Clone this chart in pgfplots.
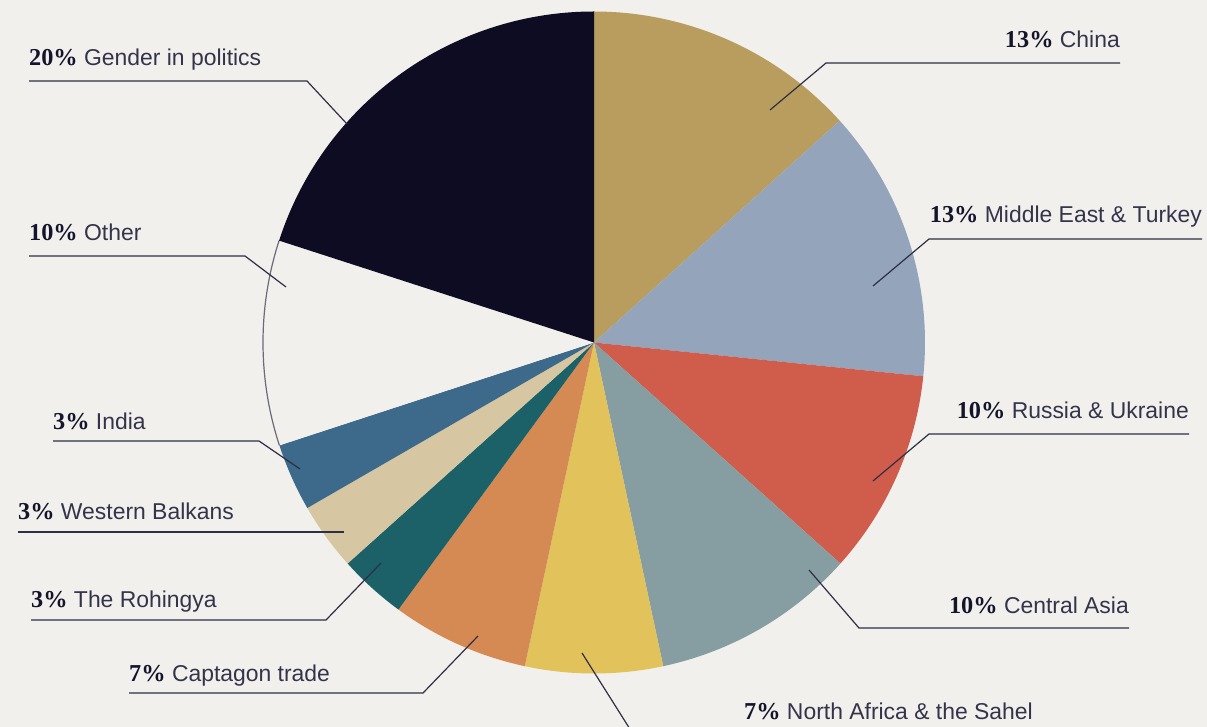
\documentclass[border=0pt]{standalone}
\usepackage{pgfplots}
\usepackage{pgfplotstable}
\usepackage{fontspec}
\pgfplotsset{compat=1.18}
\setmainfont{Liberation Sans}
\newfontfamily\pctfont{Liberation Serif}[Scale=1.06]

\definecolor{bgc}{HTML}{F1F0EC}
\definecolor{cChina}{HTML}{B89D5E}
\definecolor{cMiddleEast}{HTML}{93A4BB}
\definecolor{cRussia}{HTML}{D05C4C}
\definecolor{cCentralAsia}{HTML}{869EA1}
\definecolor{cNorthAfrica}{HTML}{E2C35B}
\definecolor{cCaptagon}{HTML}{D68A53}
\definecolor{cRohingya}{HTML}{1C6168}
\definecolor{cBalkans}{HTML}{D6C6A2}
\definecolor{cIndia}{HTML}{3D6A8A}
\definecolor{cOther}{HTML}{6B6A7A}
\definecolor{cGender}{HTML}{0D0C22}
\definecolor{txtdark}{HTML}{15142B}
\definecolor{txtlab}{HTML}{34334A}
\definecolor{leadc}{HTML}{2F2E45}

\tikzset{
  leader/.style={draw=leadc, line width=1.2bp},
  lbl/.style={font=\fontsize{23}{27}\selectfont, text=txtlab, inner sep=0pt},
}

% shares in percent, clockwise from 12 o'clock
\pgfplotstableread[col sep=comma]{
name,value,fill,edge
China,13.3,cChina,none
Middle East & Turkey,13.3,cMiddleEast,none
Russia & Ukraine,10,cRussia,none
Central Asia,10,cCentralAsia,none
North Africa & the Sahel,6.7,cNorthAfrica,none
Captagon trade,6.7,cCaptagon,none
The Rohingya,3.3,cRohingya,none
Western Balkans,3.3,cBalkans,none
India,3.3,cIndia,none
Other,10,bgc,cOther
Gender in politics,20,cGender,none
}\piedata

\newcommand\lab[2]{{\pctfont\bfseries\color{txtdark}#1\%}\ #2}

\begin{document}
\begin{tikzpicture}
\pgfplotstablegetrowsof{\piedata}\pgfmathtruncatemacro\nlast{\pgfplotsretval-1}
\def\total{0}
\pgfplotsforeachungrouped \i in {0,...,\nlast}{%
  \pgfplotstablegetelem{\i}{value}\of\piedata
  \pgfmathsetmacro\total{\total+\pgfplotsretval}}
\begin{axis}[
    x=1bp, y=1bp,
    xmin=0, xmax=1207, ymin=0, ymax=727,
    y dir=reverse,
    hide axis,
    clip=false,
]
\fill[bgc] (axis cs:0,0) rectangle (axis cs:1207,727);
\coordinate (BL) at (axis cs:0,727);
\coordinate (TR) at (axis cs:1207,0);

\def\angA{90}
\pgfplotsforeachungrouped \i in {0,...,\nlast}{%
  \pgfplotstablegetelem{\i}{value}\of\piedata \let\v\pgfplotsretval
  \pgfplotstablegetelem{\i}{fill}\of\piedata \let\c\pgfplotsretval
  \pgfplotstablegetelem{\i}{edge}\of\piedata \let\e\pgfplotsretval
  \pgfmathsetmacro\angB{\angA-360*\v/\total}
  \edef\temp{%
    \noexpand\fill[\c] (axis cs:594,342.5) -- ++(\angA:331bp)
      arc[start angle=\angA, end angle=\angB, radius=331bp] -- cycle;
    \noexpand\path[draw=\e, line width=1.2bp] (axis cs:594,342.5) ++(\angA:331bp)
      arc[start angle=\angA, end angle=\angB, radius=331bp];}%
  \temp
  \let\angA\angB
}

% leader lines
\draw[leader] (axis cs:770,110) -- (axis cs:826,63) -- (axis cs:1120,63);
\draw[leader] (axis cs:873,286) -- (axis cs:929,239) -- (axis cs:1202,239);
\draw[leader] (axis cs:873,481) -- (axis cs:929,434) -- (axis cs:1189,434);
\draw[leader] (axis cs:809,570) -- (axis cs:859,628) -- (axis cs:1129,628);
\draw[leader] (axis cs:582,653) -- (axis cs:640,745);
\draw[leader] (axis cs:478,636) -- (axis cs:423,693) -- (axis cs:129,693);
\draw[leader] (axis cs:381,563) -- (axis cs:326,620) -- (axis cs:31,620);
\draw[leader] (axis cs:344,532) -- (axis cs:18,532);
\draw[leader] (axis cs:300,469) -- (axis cs:259,441) -- (axis cs:53,441);
\draw[leader] (axis cs:286,287) -- (axis cs:245,256) -- (axis cs:29,256);
\draw[leader] (axis cs:347,124) -- (axis cs:307,81) -- (axis cs:29,81);

% labels
\node[lbl, anchor=base east] at (axis cs:1120,48) {\lab{13}{China}};
\node[lbl, anchor=base east] at (axis cs:1202,223) {\lab{13}{Middle East \& Turkey}};
\node[lbl, anchor=base east] at (axis cs:1189,418) {\lab{10}{Russia \& Ukraine}};
\node[lbl, anchor=base east] at (axis cs:1129,613) {\lab{10}{Central Asia}};
\node[lbl, anchor=base east] at (axis cs:1033,719) {\lab{7}{North Africa \& the Sahel}};
\node[lbl, anchor=base west] at (axis cs:129,681) {\lab{7}{Captagon trade}};
\node[lbl, anchor=base west] at (axis cs:31,607) {\lab{3}{The Rohingya}};
\node[lbl, anchor=base west] at (axis cs:18,519) {\lab{3}{Western Balkans}};
\node[lbl, anchor=base west] at (axis cs:53,429) {\lab{3}{India}};
\node[lbl, anchor=base west] at (axis cs:29,241) {\lab{10}{Other}};
\node[lbl, anchor=base west] at (axis cs:29,66) {\lab{20}{Gender in politics}};
\end{axis}
\pgfresetboundingbox
\useasboundingbox (BL) rectangle (TR);
\end{tikzpicture}
\end{document}
